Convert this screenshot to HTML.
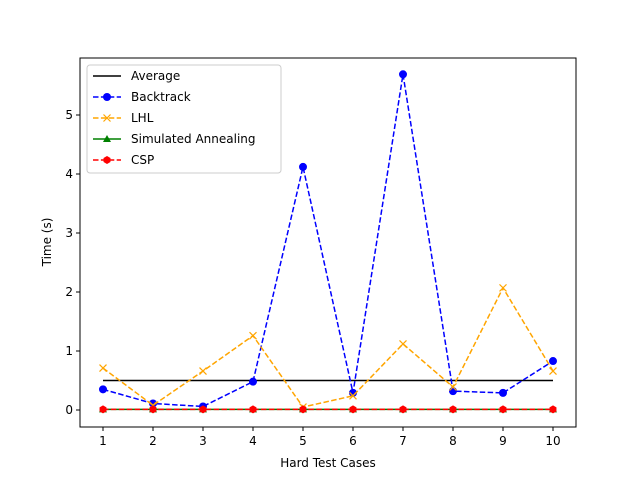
<!DOCTYPE html>
<html><head><meta charset="utf-8"><style>body{margin:0;background:#fff}svg{display:block;font-family:"DejaVu Sans","Liberation Sans",sans-serif}</style></head>
<body>
<svg id="chart" width="640" height="480" viewBox="0 0 640 480" xmlns="http://www.w3.org/2000/svg"></svg>
<script>
const categories=[1,2,3,4,5,6,7,8,9,10];
const average=[0.5,0.5,0.5,0.5,0.5,0.5,0.5,0.5,0.5,0.5];
const backtrack=[0.35,0.11,0.06,0.48,4.12,0.29,5.69,0.32,0.29,0.83];
const lhl=[0.71,0.08,0.66,1.26,0.05,0.24,1.12,0.39,2.07,0.66];
const sa=[0.01,0.01,0.01,0.01,0.01,0.01,0.01,0.01,0.01,0.01];
const csp=[0.01,0.01,0.01,0.01,0.01,0.01,0.01,0.01,0.01,0.01];
const yTicks=[0,1,2,3,4,5];
const NS="http://www.w3.org/2000/svg";
const svg=document.getElementById('chart');
const L=80,R=576,T=58,B=427;
const xs=v=>103+(v-1)*50;
const ys=v=>410-59*v;
function el(t,a,p){const e=document.createElementNS(NS,t);for(const k in a)e.setAttribute(k,a[k]);(p||svg).appendChild(e);return e;}
// ticks
categories.forEach(c=>{
 const t=el('line',{x1:xs(c),x2:xs(c),y1:B,y2:B+4,stroke:'#000'});
 
 
 const tx=el('text',{x:xs(c),y:B+18,'text-anchor':'middle','font-size':12});tx.textContent=c;
 
 
});
yTicks.forEach(v=>{
 const t=el('line',{x1:L-4,x2:L,y1:ys(v),y2:ys(v),stroke:'#000'});
 
 
 const tx=el('text',{x:L-7,y:ys(v)+4,'text-anchor':'end','font-size':12});tx.textContent=v;
 
 
});
function series(name,data,color,dash,marker){
 const g=el('g',{});
 
 
 el('polyline',{points:data.map((v,i)=>xs(categories[i])+','+ys(v)).join(' '),fill:'none',stroke:color,'stroke-width':1.5,'stroke-dasharray':dash||''},g);
 data.forEach((v,i)=>drawMarker(g,marker,xs(categories[i]),ys(v),color));
}
function drawMarker(g,m,x,y,c){
 if(m==='o')el('circle',{cx:x,cy:y,r:4,fill:c},g);
 else if(m==='h')el('polygon',{points:[0,1,2,3,4,5].map(k=>{const a=Math.PI/3*k-Math.PI/2;return (x+4*Math.cos(a))+','+(y+4*Math.sin(a));}).join(' '),fill:c},g);
 else if(m==='x'){el('line',{x1:x-3.5,y1:y-3.5,x2:x+3.5,y2:y+3.5,stroke:c,'stroke-width':1.2},g);el('line',{x1:x-3.5,y1:y+3.5,x2:x+3.5,y2:y-3.5,stroke:c,'stroke-width':1.2},g);}
 else if(m==='^')el('polygon',{points:`${x},${y-4} ${x-4},${y+3} ${x+4},${y+3}`,fill:c},g);
}
series('average-line',average,'#000','',null);
series('backtrack-series',backtrack,'blue','5.5,2.4','o');
series('lhl-series',lhl,'orange','5.5,2.4','x');
series('sa-series',sa,'green','','^');
series('csp-series',csp,'red','5.5,2.4','h');
const fr=el('rect',{x:L,y:T,width:R-L,height:B-T,fill:'none',stroke:'#000','stroke-width':1});


const xl=el('text',{x:328,y:467,'text-anchor':'middle','font-size':12});xl.textContent='Hard Test Cases';


const yl=el('text',{x:0,y:0,'text-anchor':'middle','font-size':12,transform:'translate(51,242) rotate(-90)'});yl.textContent='Time (s)';


// legend
const lg=el('g',{});


el('rect',{x:87,y:65,width:194,height:108,rx:3,fill:'#fff','fill-opacity':0.8,stroke:'#ccc'},lg);
const items=[['Average','#000','',null],['Backtrack','blue','5.5,2.4','o'],['LHL','orange','5.5,2.4','x'],['Simulated Annealing','green','','^'],['CSP','red','5.5,2.4','h']];
items.forEach((it,i)=>{
 const y=76+i*21;
 const e=el('g',{},lg);
 
 
 el('line',{x1:93,x2:121,y1:y,y2:y,stroke:it[1],'stroke-width':1.5,'stroke-dasharray':it[2]},e);
 if(it[3])drawMarker(e,it[3],107,y,it[1]);
 const t=el('text',{x:131,y:y+4,'font-size':12},e);t.textContent=it[0];
});
</script>
</body></html>
